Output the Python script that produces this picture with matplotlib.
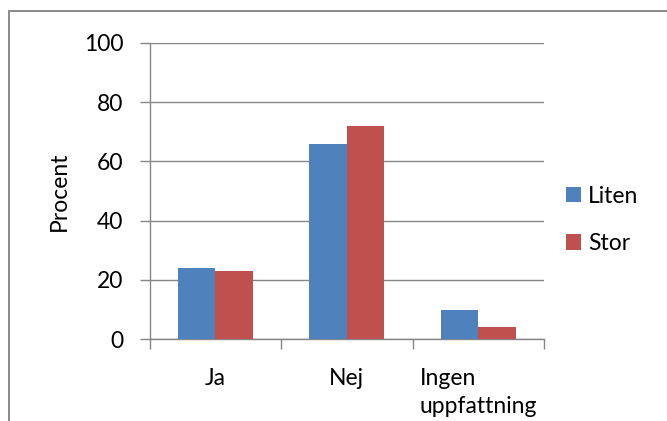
import matplotlib
matplotlib.use("Agg")
import matplotlib.pyplot as plt
import numpy as np
from matplotlib.patches import Rectangle

plt.rcParams['font.family'] = ['Lato', 'DejaVu Sans']

categories = ["Ja", "Nej", "Ingen\nuppfattning"]
series_names = ["Liten", "Stor"]
liten = [24, 66, 10]
stor = [23, 72, 4]
y_ticks = [0, 20, 40, 60, 80, 100]

blue = "#4F81BD"
red = "#C0504D"
gray = "#868686"
fs = 16.5

fig = plt.figure(figsize=(6.67, 4.21), dpi=100)
ax = fig.add_axes([149.5 / 667, 1 - 339.3 / 421, (544 - 149.5) / 667, (339.3 - 42.8) / 421])

# chart border
fig.patches.append(Rectangle((9.3 / 667, -0.05), 1.1, 1 - 10.7 / 421 + 0.05,
                             transform=fig.transFigure, fill=False,
                             edgecolor="#898989", linewidth=1.4))

x = np.arange(len(categories))
width = 1 / 3.5
ax.bar(x - width / 2, liten, width, color=blue, label=series_names[0], zorder=3)
ax.bar(x + width / 2, stor, width, color=red, label=series_names[1], zorder=3)

ax.set_xlim(-0.5, len(categories) - 0.5)
ax.set_ylim(0, 100)
ax.set_yticks(y_ticks)
ax.yaxis.grid(True, color=gray, linewidth=1.0, zorder=0)
ax.set_axisbelow(True)

ax.set_xticks(np.arange(len(categories) + 1) - 0.5)
ax.set_xticklabels([])
ax.set_xticks(x, minor=True)
ax.set_xticklabels(categories, minor=True, fontsize=fs, multialignment="left",
                   linespacing=1.4)
ax.tick_params(axis="x", which="minor", length=0, pad=21)
ax.tick_params(axis="x", which="major", length=7, width=1, color=gray, direction="out")
ax.tick_params(axis="y", length=7, width=1, color=gray, labelsize=fs, pad=12)

for side in ["top", "right"]:
    ax.spines[side].set_visible(False)
for side in ["left", "bottom"]:
    ax.spines[side].set_color(gray)
    ax.spines[side].set_linewidth(1.0)

ax.set_ylabel("Procent", fontsize=fs, labelpad=10)

ax.legend(loc="center left", bbox_to_anchor=(566 / 667, 1 - 220 / 421),
          bbox_transform=fig.transFigure, frameon=False, fontsize=fs,
          handlelength=0.65, handleheight=0.65, handletextpad=0.3,
          labelspacing=1.15, borderaxespad=0, borderpad=0)

fig.savefig("out.png", dpi=100)
